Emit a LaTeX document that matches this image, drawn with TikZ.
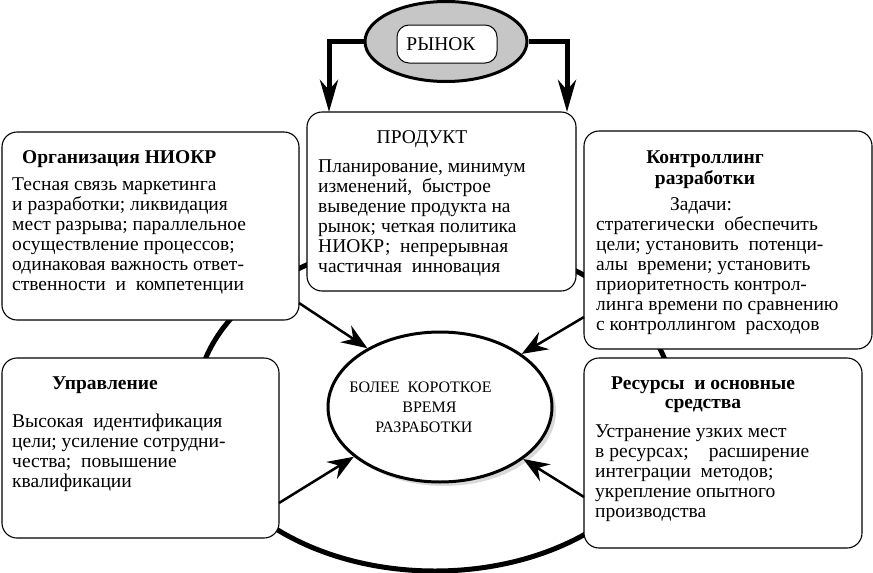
\documentclass[tikz,border=0pt]{standalone}
\usepackage{fontspec}
\setmainfont{Liberation Serif}
\usetikzlibrary{arrows.meta,shapes.geometric}
\begin{document}
\begin{tikzpicture}[x=1pt,y=-1pt,
  box/.style={draw, rounded corners=15pt, fill=white, line width=1.1pt, inner sep=0pt},
  txt/.style={inner sep=0pt, align=left, font=\fontsize{19.5}{20}\selectfont, anchor=north west},
  ttl/.style={inner sep=0pt, font=\fontsize{19.5}{20}\selectfont\bfseries},
  bigarrow/.style={line width=5pt, -{Stealth[length=32pt,width=18pt,inset=10pt]}},
  arr/.style={line width=2.5pt, -{Stealth[length=26pt,width=20pt,inset=9pt]}},
]
\useasboundingbox (0,0) rectangle (873,573);
% outer ring
\draw[line width=5pt] (435,405) ellipse [x radius=239pt, y radius=166pt];
% boxes
\node[box, minimum width=297pt, minimum height=188pt] (lt) at (150.5,226) {};
\node[box, minimum width=269pt, minimum height=179pt] (p) at (441.5,201.5) {};
\node[box, minimum width=288pt, minimum height=218pt] (rt) at (728,240) {};
\node[box, minimum width=277pt, minimum height=180pt] (lb) at (140.5,448) {};
\node[box, minimum width=278pt, minimum height=190pt] (rb) at (723,453) {};
% market
\node[ellipse, draw, line width=3pt, fill=gray!45, minimum width=162pt, minimum height=80pt, inner sep=0pt] (r) at (446,41.5) {};
\node[draw, fill=white, rounded corners=12pt, line width=1pt, minimum width=100pt, minimum height=38pt, inner sep=0pt, font=\fontsize{19.5}{20}\selectfont] (rr) at (447,44) {РЫНОК\hspace*{12pt}};
\coordinate (pl) at (329,112);
\coordinate (pr) at (567,112);
\draw[bigarrow] (r.west) -| (pl);
\draw[bigarrow] (r.east) -| (pr);
% centre
\fill[gray!30] (444,411) ellipse [x radius=112pt, y radius=75pt];
\node[ellipse, draw, line width=3pt, fill=white, minimum width=224pt, minimum height=150pt, inner sep=0pt] (c) at (440,407) {};
\node[inner sep=0pt, align=center, anchor=north, font=\fontsize{16}{20}\selectfont] (ct) at (424,381.4) {БОЛЕЕ~~КОРОТКОЕ\hspace*{7pt}\\\hspace*{11pt}ВРЕМЯ\\РАЗРАБОТКИ};
% arrows
\coordinate (s1) at (299,303);
\coordinate (s2) at (584,317);
\coordinate (s3) at (279,503);
\coordinate (s4) at (584,497);
\draw[arr] (s1) -- (c.141);
\draw[arr] (s2) -- (c.33);
\draw[arr] (s3) -- (c.210);
\draw[arr] (s4) -- (c.328);
% texts
\node[ttl, anchor=base west] (t1) at (22,163) {Организация НИОКР};
\node[txt] (b1) at (12,177.2) {Тесная связь маркетинга\\и разработки; ликвидация\\мест разрыва; параллельное\\осуществление процессов;\\одинаковая важность ответ-\\ственности~~и~~компетенции};
\node[inner sep=0pt, anchor=base, font=\fontsize{19.5}{20}\selectfont] (t2) at (422,143) {ПРОДУКТ};
\node[txt] (b2) at (318,159.2) {Планирование, минимум\\изменений,~~быстрое\\выведение продукта на\\рынок; четкая политика\\НИОКР;~~непрерывная\\частичная~~инновация};
\node[ttl, align=center, anchor=north, font=\fontsize{19.5}{21}\selectfont\bfseries] (t3) at (705,150.2) {Контроллинг\\разработки};
\node[txt] (b3) at (596,197.2) {\hspace*{74pt}Задачи:\\стратегически~~обеспечить\\цели; установить~~потенци-\\алы~~времени; установить\\приоритетность контрол-\\линга времени по сравнению\\с контроллингом~~расходов};
\node[ttl, anchor=base west] (t4) at (52,389) {Управление};
\node[txt] (b4) at (12,414.2) {Высокая~~идентификация\\цели; усиление сотрудни-\\чества;~~повышение\\квалификации};
\node[ttl, align=center, anchor=north, font=\fontsize{19.5}{19}\selectfont\bfseries] (t5) at (703,376.2) {Ресурсы~~и основные\\средства};
\node[txt] (b5) at (595,424.2) {Устранение узких мест\\в ресурсах;\hspace{20pt}расширение\\интеграции~~методов;\\укрепление опытного\\производства};
\end{tikzpicture}
\end{document}
